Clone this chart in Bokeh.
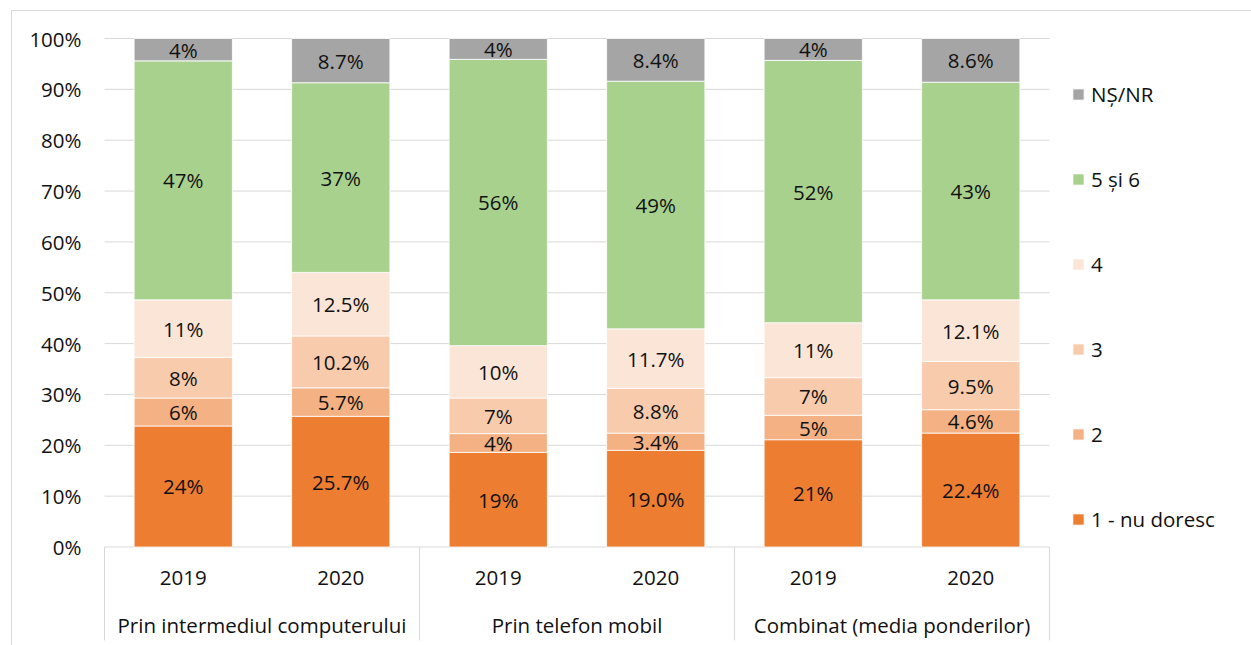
import numpy as np
from bokeh.plotting import figure
from bokeh.models import ColumnDataSource, Range1d, Legend, LegendItem
from bokeh.core.properties import value
from bokeh.embed import file_html
from bokeh.resources import INLINE

# ---------------- data ----------------
groups = ["Prin intermediul computerului", "Prin telefon mobil", "Combinat (media ponderilor)"]
years = ["2019", "2020"]
series = ["1 - nu doresc", "2", "3", "4", "5 și 6", "NȘ/NR"]
colors = ["#ED7D31", "#F4B183", "#F8CBAD", "#FBE5D6", "#A9D18E", "#A5A5A5"]

s1 = [23.8, 25.7, 18.6, 19.0, 21.1, 22.4]
s2 = [5.5, 5.6, 3.7, 3.4, 4.8, 4.6]
s3 = [8.0, 10.2, 7.0, 8.8, 7.4, 9.5]
s4 = [11.3, 12.5, 10.3, 11.7, 10.8, 12.1]
s56 = [47.0, 37.3, 56.3, 48.7, 51.6, 42.8]
snr = [4.4, 8.7, 4.1, 8.4, 4.3, 8.6]

l1 = ["24%", "25.7%", "19%", "19.0%", "21%", "22.4%"]
l2 = ["6%", "5.7%", "4%", "3.4%", "5%", "4.6%"]
l3 = ["8%", "10.2%", "7%", "8.8%", "7%", "9.5%"]
l4 = ["11%", "12.5%", "10%", "11.7%", "11%", "12.1%"]
l56 = ["47%", "37%", "56%", "49%", "52%", "43%"]
lnr = ["4%", "8.7%", "4%", "8.4%", "4%", "8.6%"]

yticks = [0, 10, 20, 30, 40, 50, 60, 70, 80, 90, 100]
ytick_labels = ["0%", "10%", "20%", "30%", "40%", "50%", "60%", "70%", "80%", "90%", "100%"]

# ---------------- layout helpers (page pixels -> data) ----------------
W, H = 1251, 645
X0_PAGE, XSTEP = 182.75, 157.5   # centre of first category, category pitch
Y0_PAGE, YPX = 546.5, 5.085      # 0% line, px per percent

def px_x(page_x):
    return (page_x - X0_PAGE) / XSTEP

def px_y(page_y):
    return (Y0_PAGE - page_y) / YPX

FNAME = "Open Sans"
FONT = value(FNAME)
FS = "20.5px"

p = figure(width=W, height=H, output_backend="svg", toolbar_location=None,
           x_range=Range1d(px_x(0), px_x(W)), y_range=Range1d(px_y(H), px_y(0)),
           min_border=0, min_border_left=0, min_border_right=0,
           min_border_top=0, min_border_bottom=0)
p.axis.visible = False
p.grid.visible = False
p.outline_line_color = None
p.background_fill_color = "white"

n = len(s1)
xs = list(range(n))
x_left, x_right = -0.5, n - 0.5

# outer chart border (left/top)
p.segment(x0=[px_x(11), px_x(11)], y0=[px_y(10), px_y(10)],
          x1=[px_x(11), px_x(W + 5)], y1=[px_y(H + 5), px_y(10)],
          line_color="#D9D9D9", line_width=1)

# gridlines
p.segment(x0=[x_left] * len(yticks), x1=[x_right] * len(yticks), y0=yticks, y1=yticks,
          line_color="#D9D9D9", line_width=1)

# category separators
seps = [-0.5, 1.5, 3.5, 5.5]
p.segment(x0=seps, x1=seps, y0=[0] * 4, y1=[px_y(640)] * 4,
          line_color="#D9D9D9", line_width=1)

# bars
names = ["s1", "s2", "s3", "s4", "s56", "snr"]
vals = [s1, s2, s3, s4, s56, snr]
data = {"x": xs}
for nm, v in zip(names, vals):
    data[nm] = v
src = ColumnDataSource(data)
rs = p.vbar_stack(names, x="x", width=0.624, source=src, color=colors,
                  line_color="white", line_width=0.8)

# segment labels
labs = [l1, l2, l3, l4, l56, lnr]
arr = np.array(vals)
tops = np.cumsum(arr, axis=0)
mids = tops - arr / 2.0
lx, ly, lt = [], [], []
for k in range(len(names)):
    for i in range(n):
        lx.append(xs[i]); ly.append(mids[k][i]); lt.append(labs[k][i])
p.text(x=lx, y=ly, text=lt, text_font=FONT, text_font_size=FS,
       text_color="#111111", text_align="center", text_baseline="middle")

# y tick labels
p.text(x=[x_left] * len(yticks), y=yticks, text=ytick_labels, x_offset=-23,
       text_font=FONT, text_font_size=FS, text_color="#111111",
       text_align="right", text_baseline="middle")

# category labels
yr_t = [years[i % 2] for i in range(n)]
p.text(x=xs, y=[px_y(577)] * n, text=yr_t, text_font=FONT, text_font_size=FS,
       text_color="#111111", text_align="center", text_baseline="middle")
p.text(x=[0.5, 2.5, 4.5], y=[px_y(624)] * 3, text=groups, text_font=FONT,
       text_font_size=FS, text_color="#111111", text_align="center",
       text_baseline="middle")

# legend
items = [LegendItem(label=series[k], renderers=[rs[k]]) for k in reversed(range(len(series)))]
legend = Legend(items=items, location=(1071, 112), orientation="vertical",
                glyph_width=14, glyph_height=14, label_height=20, spacing=57,
                label_standoff=6, padding=0, margin=0,
                label_text_font=FNAME, label_text_font_size=FS, label_text_color="#111111",
                border_line_color=None, background_fill_alpha=0)
p.add_layout(legend)

open("out.html", "w").write(file_html(p, INLINE))
